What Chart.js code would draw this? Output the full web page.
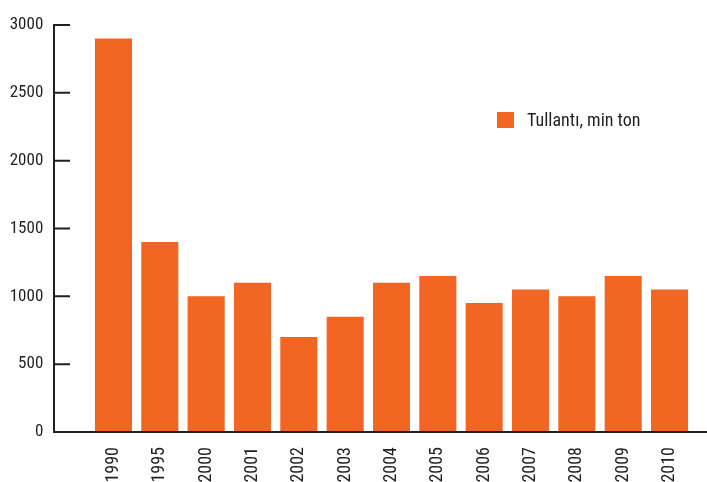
<!DOCTYPE html>
<html>
<head>
<meta charset="utf-8">
<script src="https://cdn.jsdelivr.net/npm/chart.js@4.4.1/dist/chart.umd.min.js"></script>
<style>
  html, body { margin: 0; padding: 0; background: #fff; }
  #wrap { width: 707px; height: 482px; }
</style>
</head>
<body>
<div id="wrap"><canvas id="chart"></canvas></div>
<script>
const years = ['1990', '1995', '2000', '2001', '2002', '2003', '2004', '2005', '2006', '2007', '2008', '2009', '2010'];
const tullanti = [2900, 1400, 1000, 1100, 700, 850, 1100, 1150, 950, 1050, 1000, 1150, 1050];
const yTicks = [0, 500, 1000, 1500, 2000, 2500, 3000];
const seriesLabel = 'Tullantı, min ton';

const ORANGE = '#f26522';
const INK = '#231f20';
const FONT = '"Roboto Condensed", "Liberation Sans Narrow", "Liberation Sans", sans-serif';

// axis lines, tick marks and the legend are drawn by hand
const axisLines = {
  id: 'axisLines',
  afterDraw(chart) {
    const { ctx, chartArea, scales: { y } } = chart;
    const x0 = 54;
    ctx.save();
    ctx.strokeStyle = INK;
    ctx.lineWidth = 2;
    ctx.beginPath();
    ctx.moveTo(x0, y.getPixelForValue(yTicks[yTicks.length - 1]) - 1);
    ctx.lineTo(x0, chartArea.bottom);
    ctx.lineTo(chart.width, chartArea.bottom);
    yTicks.forEach(v => {
      const py = y.getPixelForValue(v);
      ctx.moveTo(x0, py);
      ctx.lineTo(x0 + 16, py);
    });
    ctx.stroke();

    // legend
    ctx.fillStyle = ORANGE;
    ctx.fillRect(497, 112, 17, 16);
    ctx.fillStyle = INK;
    ctx.font = '18px ' + FONT;
    ctx.textBaseline = 'middle';
    ctx.fillText(seriesLabel, 527, 121);
    ctx.restore();
  }
};

new Chart(document.getElementById('chart'), {
  type: 'bar',
  data: {
    labels: years,
    datasets: [{
      label: seriesLabel,
      data: tullanti,
      backgroundColor: ORANGE,
      barPercentage: 1,
      categoryPercentage: 0.8
    }]
  },
  options: {
    responsive: true,
    maintainAspectRatio: false,
    animation: false,
    layout: { padding: { top: 25, right: 14.3, left: 0, bottom: 0 } },
    plugins: { legend: { display: false }, tooltip: { enabled: false } },
    scales: {
      x: {
        offset: true,
        grid: { display: false, drawTicks: false },
        border: { display: false },
        ticks: { minRotation: 90, maxRotation: 90, padding: 15, color: INK, font: { family: FONT, size: 18 } },
        afterFit: s => { s.height = 50; }
      },
      y: {
        min: 0,
        max: 3000,
        grid: { display: false, drawTicks: false },
        border: { display: false },
        ticks: { stepSize: 500, padding: 47, color: INK, font: { family: FONT, size: 17 }, callback: v => String(v) },
        afterFit: s => { s.width = 90.3; s.paddingTop = 10; s.paddingBottom = 10; }
      }
    }
  },
  plugins: [axisLines]
});
</script>
</body>
</html>
